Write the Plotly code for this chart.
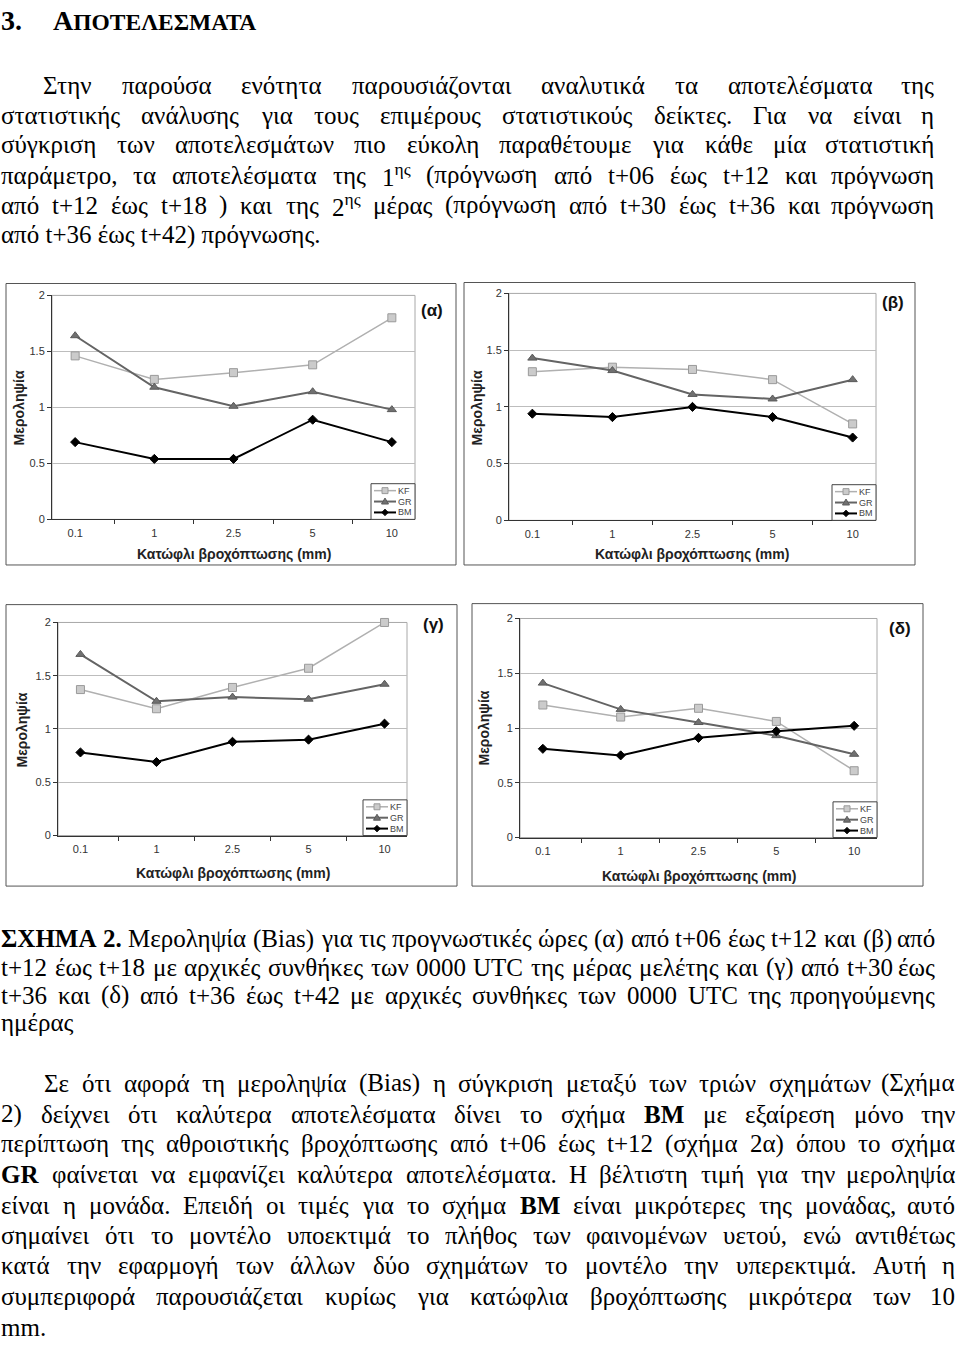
import json
import unicodedata
import plotly.graph_objects as go

# ---------------- data ----------------
categories = ["0.1", "1", "2.5", "5", "10"]
series_names = ["KF", "GR", "BM"]

kf_alpha = [1.46, 1.25, 1.31, 1.38, 1.80]
gr_alpha = [1.64, 1.18, 1.01, 1.14, 0.98]
bm_alpha = [0.69, 0.54, 0.54, 0.89, 0.69]

kf_beta = [1.31, 1.35, 1.33, 1.24, 0.85]
gr_beta = [1.43, 1.32, 1.11, 1.07, 1.24]
bm_beta = [0.94, 0.91, 1.00, 0.91, 0.73]

kf_gamma = [1.37, 1.19, 1.39, 1.57, 2.00]
gr_gamma = [1.70, 1.26, 1.30, 1.28, 1.42]
bm_gamma = [0.78, 0.69, 0.88, 0.90, 1.05]

kf_delta = [1.21, 1.10, 1.18, 1.06, 0.61]
gr_delta = [1.41, 1.17, 1.05, 0.93, 0.76]
bm_delta = [0.81, 0.75, 0.91, 0.97, 1.02]

y_tick_vals = [0, 0.5, 1, 1.5, 2]
y_tick_text = ["0", "0.5", "1", "1.5", "2"]
panel_labels = ["(α)", "(β)", "(γ)", "(δ)"]
y_title = "Μεροληψία"
x_title = "Κατώφλι βροχόπτωσης (mm)"

heading_num = "3."
heading_first = "Α"
heading_rest = "ΠΟΤΕΛΕΣΜΑΤΑ"

para1 = [
    "Στην παρούσα ενότητα παρουσιάζονται αναλυτικά τα αποτελέσματα της",
    "στατιστικής ανάλυσης για τους επιμέρους στατιστικούς δείκτες. Για να είναι η",
    "σύγκριση των αποτελεσμάτων πιο εύκολη παραθέτουμε για κάθε μία στατιστική",
    "παράμετρο, τα αποτελέσματα της 1^ης (πρόγνωση από t+06 έως t+12 και πρόγνωση",
    "από t+12 έως t+18 ) και της 2^ης μέρας (πρόγνωση από t+30 έως t+36 και πρόγνωση",
    "από t+36 έως t+42) πρόγνωσης.",
]
caption = [
    "**ΣΧΗΜΑ** **2.** Μεροληψία (Bias) για τις προγνωστικές ώρες (α) από t+06 έως t+12 και (β) από",
    "t+12 έως t+18 με αρχικές συνθήκες των 0000 UTC της μέρας μελέτης και (γ) από t+30 έως",
    "t+36 και (δ) από t+36 έως t+42 με αρχικές συνθήκες των 0000 UTC της προηγούμενης",
    "ημέρας",
]
para3 = [
    "Σε ότι αφορά τη μεροληψία (Bias) η σύγκριση μεταξύ των τριών σχημάτων (Σχήμα",
    "2) δείχνει ότι καλύτερα αποτελέσματα δίνει το σχήμα **BM** με εξαίρεση μόνο την",
    "περίπτωση της αθροιστικής βροχόπτωσης από t+06 έως t+12 (σχήμα 2α) όπου το σχήμα",
    "**GR** φαίνεται να εμφανίζει καλύτερα αποτελέσματα. Η βέλτιστη τιμή για την μεροληψία",
    "είναι η μονάδα. Επειδή οι τιμές για το σχήμα **BM** είναι μικρότερες της μονάδας, αυτό",
    "σημαίνει ότι το μοντέλο υποεκτιμά το πλήθος των φαινομένων υετού, ενώ αντιθέτως",
    "κατά την εφαρμογή των άλλων δύο σχημάτων το μοντέλο την υπερεκτιμά. Αυτή η",
    "συμπεριφορά παρουσιάζεται κυρίως για κατώφλια βροχόπτωσης μικρότερα των 10",
    "mm.",
]

# ---------------- page geometry (pixels) ----------------
W_PX, H_PX = 960, 1346


def PX(p):
    return p / W_PX


def PY(p):
    return 1 - p / H_PX


SERIF = "Liberation Serif, Times New Roman, serif"
SANS = "Liberation Sans, Arial, sans-serif"
BODY_SIZE = 25

panels = [
    dict(frame=(6, 280, 456, 564), plot=(52, 292, 415, 518), label=(432, 307), xt=(234, 553), yt=(19, 406)),
    dict(frame=(464, 279, 915, 564), plot=(509, 290, 876, 519), label=(893, 299), xt=(692, 553), yt=(477, 406)),
    dict(frame=(6, 604, 457, 888), plot=(58, 622, 407, 837), label=(433, 624), xt=(233, 875), yt=(22, 731)),
    dict(frame=(472, 603, 923, 888), plot=(520, 618, 877, 839), label=(900, 628), xt=(699, 878), yt=(484, 729)),
]
panel_data = [
    (kf_alpha, gr_alpha, bm_alpha),
    (kf_beta, gr_beta, bm_beta),
    (kf_gamma, gr_gamma, bm_gamma),
    (kf_delta, gr_delta, bm_delta),
]

styles = {
    "KF": dict(line=dict(color="#b0b0b0", width=1.5),
               marker=dict(symbol="square", size=8, color="#cbcbcb", line=dict(color="#9a9a9a", width=1))),
    "GR": dict(line=dict(color="#646464", width=2),
               marker=dict(symbol="triangle-up", size=8, color="#707070", line=dict(color="#5a5a5a", width=1))),
    "BM": dict(line=dict(color="#000000", width=2),
               marker=dict(symbol="diamond", size=7, color="#000000", line=dict(color="#000000", width=1))),
}

fig = go.Figure()
shapes = []
anns = []
layout_axes = {}

for i, (pn, data) in enumerate(zip(panels, panel_data)):
    s = "" if i == 0 else str(i + 1)
    L, T, R, B = pn["plot"]
    for name, vals in zip(series_names, data):
        st = styles[name]
        fig.add_trace(go.Scatter(
            x=categories, y=vals, name=name, mode="lines+markers",
            xaxis="x" + s, yaxis="y" + s, line=st["line"], marker=st["marker"],
            cliponaxis=False, showlegend=False, hoverinfo="skip"))
    layout_axes["xaxis" + s] = dict(
        domain=[PX(L), PX(R)], anchor="y" + s, type="category",
        categoryorder="array", categoryarray=categories,
        tickson="boundaries", ticks="outside", ticklen=4, tickcolor="#333333",
        showline=True, linecolor="#333333", linewidth=1, showgrid=False, zeroline=False,
        tickfont=dict(family=SANS, size=11, color="#333333"), ticklabelstandoff=3,
        fixedrange=True)
    layout_axes["yaxis" + s] = dict(
        domain=[PY(B), PY(T)], anchor="x" + s, range=[0, 2],
        tickmode="array", tickvals=y_tick_vals, ticktext=y_tick_text,
        ticks="outside", ticklen=4, tickcolor="#333333",
        showline=True, linecolor="#333333", linewidth=1,
        showgrid=True, gridcolor="#bdbdbd", gridwidth=1, zeroline=False,
        tickfont=dict(family=SANS, size=11, color="#333333"), fixedrange=True)
    shapes.append(dict(type="rect", xref=("x" + s + " domain"), yref=("y" + s + " domain"),
                       x0=0, x1=1, y0=0, y1=1, line=dict(color="#a8a8a8", width=1), layer="below"))
    fx0, fy0, fx1, fy1 = pn["frame"]
    shapes.append(dict(type="rect", xref="paper", yref="paper", x0=PX(fx0), x1=PX(fx1),
                       y0=PY(fy1), y1=PY(fy0), line=dict(color="#555555", width=1)))
    anns.append(dict(text="<b>" + x_title + "</b>", x=PX(pn["xt"][0]), y=PY(pn["xt"][1]),
                     xref="paper", yref="paper", xanchor="center", yanchor="middle",
                     showarrow=False, font=dict(family=SANS, size=14, color="#222222")))
    anns.append(dict(text="<b>" + y_title + "</b>", x=PX(pn["yt"][0]), y=PY(pn["yt"][1]),
                     xref="paper", yref="paper", xanchor="center", yanchor="middle",
                     textangle=-90, showarrow=False, font=dict(family=SANS, size=14, color="#222222")))
    anns.append(dict(text="<b>" + panel_labels[i] + "</b>", x=PX(pn["label"][0]), y=PY(pn["label"][1]),
                     xref="paper", yref="paper", xanchor="center", yanchor="middle",
                     showarrow=False, font=dict(family=SANS, size=17, color="#111111")))
    # compact legend box at the lower-right corner of the plot area
    shapes.append(dict(type="rect", xref="paper", yref="paper", x0=PX(R - 44), x1=PX(R),
                       y0=PY(B), y1=PY(B - 36), fillcolor="white",
                       line=dict(color="#444444", width=1), layer="above"))
    for k, name in enumerate(series_names):
        yc = B - 29 + 11 * k
        st = styles[name]
        shapes.append(dict(type="line", xref="paper", yref="paper", x0=PX(R - 41), x1=PX(R - 19),
                           y0=PY(yc), y1=PY(yc), line=dict(color=st["line"]["color"], width=st["line"]["width"]),
                           layer="above"))
        cx = R - 30
        mc = st["marker"]["color"]
        ml = st["marker"]["line"]["color"]
        if name == "KF":
            shapes.append(dict(type="rect", xref="paper", yref="paper", x0=PX(cx - 3), x1=PX(cx + 3),
                               y0=PY(yc + 3), y1=PY(yc - 3), fillcolor=mc, line=dict(color=ml, width=1),
                               layer="above"))
        elif name == "GR":
            path = "M {},{} L {},{} L {},{} Z".format(PX(cx), PY(yc - 3.5), PX(cx - 3.5), PY(yc + 2.5),
                                                        PX(cx + 3.5), PY(yc + 2.5))
            shapes.append(dict(type="path", xref="paper", yref="paper", path=path, fillcolor=mc,
                               line=dict(color=ml, width=1), layer="above"))
        else:
            path = "M {},{} L {},{} L {},{} L {},{} Z".format(PX(cx), PY(yc - 3.2), PX(cx + 3.2), PY(yc),
                                                                PX(cx), PY(yc + 3.2), PX(cx - 3.2), PY(yc))
            shapes.append(dict(type="path", xref="paper", yref="paper", path=path, fillcolor=mc,
                               line=dict(color=ml, width=1), layer="above"))
        anns.append(dict(text=name, x=PX(R - 18), y=PY(yc), xref="paper", yref="paper",
                         xanchor="left", yanchor="middle", showarrow=False, borderpad=0,
                         font=dict(family=SANS, size=9, color="#444444")))

# ---------------- text (justified, word by word) ----------------
LAT_W = dict(zip("abcdefghijklmnopqrstuvwxyz",
                 [.444, .5, .444, .5, .444, .333, .5, .5, .278, .278, .5, .278, .778, .5, .5, .5, .5,
                  .333, .389, .278, .5, .5, .722, .5, .5, .444]))
LAT_U = dict(zip("ABCDEFGHIJKLMNOPQRSTUVWXYZ",
                 [.722, .667, .667, .722, .611, .556, .722, .722, .333, .389, .722, .611, .889, .722, .722,
                  .556, .722, .667, .556, .611, .722, .722, .944, .722, .722, .611]))
GRK_L = dict(zip("αβγδεζηθικλμνξοπρσςτυφχψω",
                 [.55, .52, .48, .5, .44, .44, .53, .5, .29, .5, .5, .55, .48, .44, .52, .56, .52, .55,
                  .44, .45, .5, .66, .5, .7, .72]))
GRK_U = dict(zip("ΑΒΓΔΕΖΗΘΙΚΛΜΝΞΟΠΡΣΤΥΦΧΨΩ",
                 [.722, .667, .6, .65, .611, .611, .722, .722, .333, .722, .68, .889, .722, .64, .722, .722,
                  .556, .6, .611, .72, .77, .722, .78, .77]))
OTHER = {".": .25, ",": .25, "(": .333, ")": .333, "+": .564, " ": .25}


def char_w(c):
    b = unicodedata.normalize("NFD", c)[0]
    for tbl in (LAT_W, LAT_U, GRK_L, GRK_U, OTHER):
        if b in tbl:
            return tbl[b]
    return .5


def text_w(t):
    return sum(char_w(c) for c in t)


def render_word(w):
    bold = w.startswith("**") and w.endswith("**")
    if bold:
        w = w[2:-2]
    if "^" in w:
        base, sup = w.split("^")
        html = base + "<sup>" + sup + "</sup>"
        est = text_w(base) + 0.7 * text_w(sup)
    else:
        html = w
        est = text_w(w)
    if bold:
        html = "<b>" + html + "</b>"
        est *= 1.06
    return html, est


blocks = [
    (para1, [80, 110, 140, 171, 201, 231], 42, 0, 935),
    (caption, [941, 970, 998, 1026], 0, 0, 936),
    (para3, [1087, 1118, 1148, 1179, 1210, 1241, 1271, 1302, 1333], 43, 0, 956),
]

items = []
for lines, ys, x_ind, x_left, x_right in blocks:
    for k, (line, yc) in enumerate(zip(lines, ys)):
        x0 = x_ind if k == 0 else x_left
        words = [render_word(w) for w in line.split()]
        items.append((words, x0, x_right, yc, k == len(lines) - 1))

# first-guess positions from estimated widths (refined in the page from measured widths)
f = min((x1 - x0) / (BODY_SIZE * (sum(e for _, e in ws) + OTHER[" "] * (len(ws) - 1)))
        for ws, x0, x1, yc, last in items if not last and len(ws) > 1)
f = max(0.85, min(f, 1.15))

justify_lines = []
for ws, x0, x1, yc, last in items:
    if last:
        anns.append(dict(text=" ".join(h for h, _ in ws), x=PX(x0), y=PY(yc), xref="paper", yref="paper",
                         xanchor="left", yanchor="middle", showarrow=False, borderpad=0,
                         font=dict(family=SERIF, size=BODY_SIZE, color="#000000")))
        continue
    widths = [e * BODY_SIZE * f for _, e in ws]
    gap = (x1 - x0 - sum(widths)) / (len(ws) - 1)
    pos = x0
    idx = []
    for j, ((h, _), wd) in enumerate(zip(ws, widths)):
        last_word = j == len(ws) - 1
        idx.append(len(anns))
        anns.append(dict(text=h, x=PX(x1 if last_word else pos), y=PY(yc), xref="paper", yref="paper",
                         xanchor="right" if last_word else "left", yanchor="middle",
                         showarrow=False, borderpad=0,
                         font=dict(family=SERIF, size=BODY_SIZE, color="#000000")))
        pos += wd + gap
    justify_lines.append(dict(idx=idx, x0=x0, x1=x1))

# heading
anns.append(dict(text="<b>" + heading_num + "</b>", x=PX(0), y=PY(15), xref="paper", yref="paper",
                 xanchor="left", yanchor="middle", showarrow=False, borderpad=0,
                 font=dict(family=SERIF, size=28, color="#000000")))
anns.append(dict(text="<b>" + heading_first + "<span style='font-size:23.5px'>" + heading_rest + "</span></b>",
                 x=PX(52), y=PY(15), xref="paper", yref="paper",
                 xanchor="left", yanchor="middle", showarrow=False, borderpad=0,
                 font=dict(family=SERIF, size=28, color="#000000")))

fig.update_layout(
    width=W_PX, height=H_PX, autosize=False,
    margin=dict(l=0, r=0, t=0, b=0, pad=0),
    paper_bgcolor="white", plot_bgcolor="white",
    showlegend=False, shapes=shapes, annotations=anns,
    **layout_axes,
)

# justify each text line using the widths measured in the browser
post_js = """
document.body.style.margin = '0px';
var gd = document.getElementById('{plot_id}');
var LINES = __LINES__;
var WPX = __W__;
var upd = {};
LINES.forEach(function (L) {
  var ws = [];
  for (var j = 0; j < L.idx.length; j++) {
    var el = gd.querySelector('.annotation[data-index="' + L.idx[j] + '"] .annotation-text');
    if (!el) { return; }
    ws.push(el.getBBox().width);
  }
  var tot = ws.reduce(function (a, b) { return a + b; }, 0);
  var n = ws.length;
  var gap = (L.x1 - L.x0 - tot) / (n - 1);
  var pos = L.x0;
  for (var k = 0; k < n; k++) {
    var key = 'annotations[' + L.idx[k] + ']';
    if (k === n - 1) {
      upd[key + '.x'] = L.x1 / WPX;
      upd[key + '.xanchor'] = 'right';
    } else {
      upd[key + '.x'] = pos / WPX;
      upd[key + '.xanchor'] = 'left';
    }
    pos += ws[k] + gap;
  }
});
Plotly.relayout(gd, upd);
""".replace("__LINES__", json.dumps(justify_lines)).replace("__W__", str(W_PX))

fig.write_html("out.html", post_script=post_js, config={"displayModeBar": False, "staticPlot": True})
